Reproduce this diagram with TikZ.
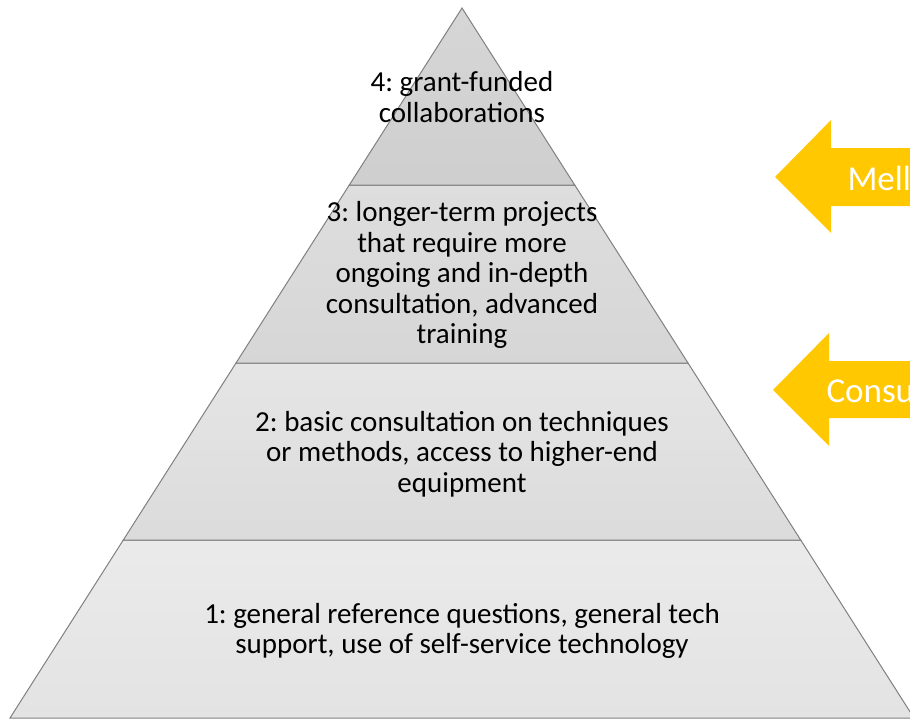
\documentclass[tikz,border=0pt]{standalone}
\usepackage{fontspec}
\setmainfont{Carlito}
\usetikzlibrary{positioning}
\definecolor{arrowgold}{RGB}{255,200,0}
\definecolor{bandedge}{RGB}{128,128,128}
\frenchspacing

\begin{document}
\begin{tikzpicture}[x=1pt,y=-1pt,
	band/.style={draw=bandedge,line width=1pt,line join=miter},
	tiertext/.style={align=center,font=\fontsize{29}{30.5}\selectfont,text=black},
	arrowlab/.style={anchor=west,font=\fontsize{35}{40}\selectfont,text=white}]
	\useasboundingbox (0,0) rectangle (910,718);
	\clip (0,0) rectangle (910,718);
	% tiers, from the base up
	\draw[band,top color=black!8,bottom color=black!11] (10,718) -- (914,718) -- (800.7,540) -- (123.3,540) -- cycle;
	\draw[band,top color=black!10,bottom color=black!14] (123.3,540) -- (800.7,540) -- (688,363) -- (236,363) -- cycle;
	\draw[band,top color=black!13,bottom color=black!16] (236,363) -- (688,363) -- (574.7,185) -- (349.3,185) -- cycle;
	\draw[band,top color=black!16,bottom color=black!19] (349.3,185) -- (574.7,185) -- (462,8) -- cycle;
	\node[tiertext] (tier1) at (462,631) {1: general reference questions, general tech\\support, use of self-service technology};
	\node[tiertext] (tier2) at (462,454) {2: basic consultation on techniques\\or methods, access to higher-end\\equipment};
	\node[tiertext] (tier3) at (462,275) {3: longer-term projects\\that require more\\ongoing and in-depth\\consultation, advanced\\training};
	\node[tiertext] (tier4) at (462,97) {4: grant-funded\\collaborations};
	% arrows on the right
	\fill[arrowgold] (775,177) -- (831,120) -- (831,148) -- (930,148) -- (930,206) -- (831,206) -- (831,233) -- cycle;
	\fill[arrowgold] (773,390) -- (829,333) -- (829,361) -- (930,361) -- (930,418) -- (829,418) -- (829,446) -- cycle;
	\node[arrowlab] (mell) at (844,178) {Mell};
	\node[arrowlab] (consu) at (823,391) {Consu};
\end{tikzpicture}
\end{document}
